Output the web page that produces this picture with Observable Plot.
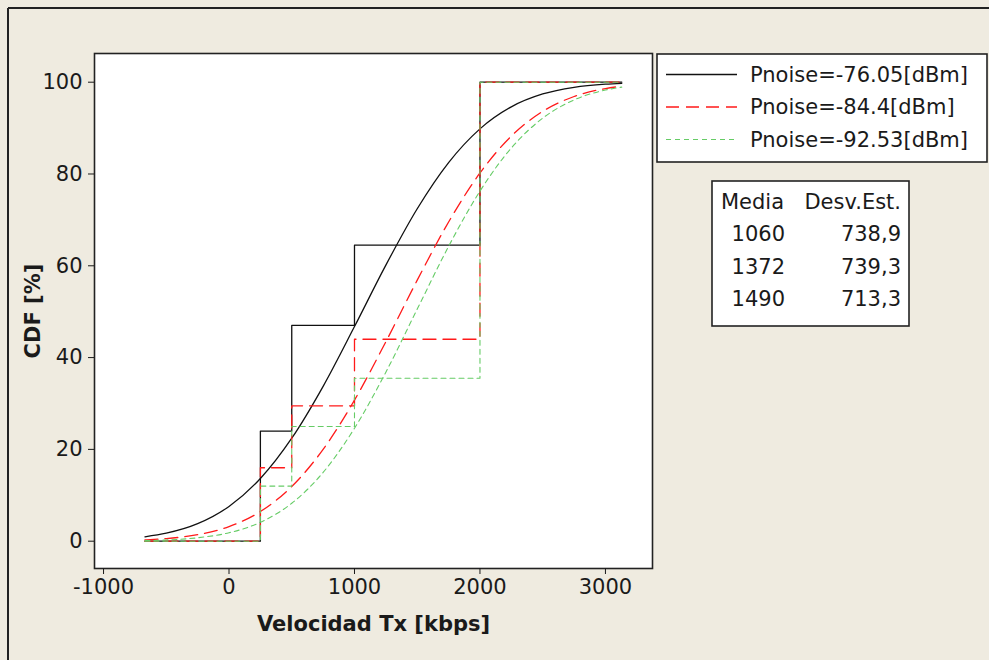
<!DOCTYPE html>
<html>
<head>
<meta charset="utf-8">
<script src="https://cdn.jsdelivr.net/npm/d3@7"></script>
<script src="https://cdn.jsdelivr.net/npm/@observablehq/plot@0.6"></script>
<style>
  html, body { margin: 0; padding: 0; background: #efebe0; }
  #chart { position: relative; width: 989px; height: 660px; }
</style>
</head>
<body>
<div id="chart"></div>
<script>
// ---- data ----
const seriesNames = ["Pnoise=-76.05[dBm]", "Pnoise=-84.4[dBm]", "Pnoise=-92.53[dBm]"];
const means = ["1060", "1372", "1490"];
const stdDevs = ["738,9", "739,3", "713,3"];

// empirical CDF steps
const stepX = [-670, 250, 500, 1000, 2000, 3130];
const ecdfA = [0, 24, 47, 64.5, 100, 100];
const ecdfB = [0, 16, 29.5, 44, 100, 100];
const ecdfC = [0, 12, 25, 35.5, 100, 100];

// fitted curves, read point by point
const curveX = [-670, -500, -250, 0, 250, 500, 750, 1000, 1250, 1500, 1750, 2000, 2250, 2500, 2750, 3000, 3130];
const fitA = [0.96, 1.74, 3.81, 7.57, 13.65, 22.43, 33.74, 46.76, 60.15, 72.42, 82.48, 89.83, 94.63, 97.43, 98.89, 99.57, 99.75];
const fitB = [0.29, 0.57, 1.41, 3.17, 6.46, 11.91, 20.01, 30.74, 43.45, 56.87, 69.54, 80.22, 88.25, 93.64, 96.88, 98.62, 99.13];
const fitC = [0.12, 0.26, 0.74, 1.84, 4.11, 8.26, 14.98, 24.61, 36.82, 50.56, 64.23, 76.27, 85.67, 92.16, 96.14, 98.29, 98.92];

const xTicks = [-1000, 0, 1000, 2000, 3000];
const yTicks = [0, 20, 40, 60, 80, 100];

// ---- styles ----
const colors = ["#111111", "#ff1a1a", "#66cc66"];
const dashes = [null, "13,7", "5,4"];
const widths = [1.3, 1.3, 1.1];

const ecdfs = [ecdfA, ecdfB, ecdfC];
const fits = [fitA, fitB, fitC];

const lineMarks = [];
for (let s = 0; s < 3; s++) {
  const steps = stepX.map((x, i) => ({x, y: ecdfs[s][i]}));
  const fit = curveX.map((x, i) => ({x, y: fits[s][i]}));
  lineMarks.push(Plot.line(steps, {x: "x", y: "y", curve: "step-after", stroke: colors[s], strokeWidth: widths[s], strokeDasharray: dashes[s]}));
  lineMarks.push(Plot.line(fit, {x: "x", y: "y", curve: "monotone-x", stroke: colors[s], strokeWidth: widths[s], strokeDasharray: dashes[s]}));
}

const svg = Plot.plot({
  width: 989,
  height: 660,
  marginLeft: 94,
  marginRight: 337,
  marginTop: 53,
  marginBottom: 92,
  style: {background: "#efebe0", fontFamily: "DejaVu Sans", fontSize: "21px", color: "#1a1a1a"},
  x: {domain: [-1072, 3375]},
  y: {domain: [-5.95, 106.25]},
  marks: [
    Plot.frame({fill: "white", stroke: null}),
    ...lineMarks,
    Plot.frame({stroke: "#222", strokeWidth: 1.6}),
    Plot.axisX({ticks: xTicks, tickSize: 6, tickPadding: 5, tickFormat: d => String(d), label: null, fontSize: 21}),
    Plot.axisY({ticks: yTicks, tickSize: 6, tickPadding: 6, tickFormat: d => String(d), label: null, fontSize: 21}),
    Plot.text(["Velocidad Tx [kbps]"], {frameAnchor: "bottom", dy: 56, lineAnchor: "middle", fontWeight: "bold", fontSize: 21}),
    Plot.text(["CDF [%]"], {frameAnchor: "left", dx: -61, rotate: -90, textAnchor: "middle", fontWeight: "bold", fontSize: 21})
  ]
});

document.getElementById("chart").appendChild(svg);

// ---- legend, stats table and outer border ----
const root = d3.select(svg);
const g = root.append("g").attr("text-anchor", "start");

// outer border (left & top)
g.append("line").attr("x1", 8).attr("y1", 8).attr("x2", 8).attr("y2", 660).attr("stroke", "#222").attr("stroke-width", 2);
g.append("line").attr("x1", 8).attr("y1", 8).attr("x2", 989).attr("y2", 8).attr("stroke", "#222").attr("stroke-width", 2);

// series legend
g.append("rect").attr("x", 657).attr("y", 54).attr("width", 330).attr("height", 108)
  .attr("fill", "white").attr("stroke", "#222").attr("stroke-width", 1.6);
seriesNames.forEach((name, i) => {
  const cy = 74.5 + i * 32.5;
  g.append("line").attr("x1", 666).attr("x2", 737).attr("y1", cy).attr("y2", cy)
    .attr("stroke", colors[i]).attr("stroke-width", widths[i])
    .attr("stroke-dasharray", dashes[i]);
  g.append("text").attr("x", 750).attr("y", cy).attr("dy", "0.35em").attr("text-anchor", "start")
    .attr("fill", "#1a1a1a").attr("font-size", 21).text(name);
});

// statistics table
g.append("rect").attr("x", 712).attr("y", 181).attr("width", 197).attr("height", 145)
  .attr("fill", "white").attr("stroke", "#222").attr("stroke-width", 1.6);
const rowY = [202, 234, 267, 299];
g.append("text").attr("x", 784).attr("y", rowY[0]).attr("dy", "0.35em").attr("text-anchor", "end")
  .attr("fill", "#1a1a1a").attr("font-size", 21).text("Media");
g.append("text").attr("x", 901).attr("y", rowY[0]).attr("dy", "0.35em").attr("text-anchor", "end")
  .attr("fill", "#1a1a1a").attr("font-size", 21).text("Desv.Est.");
means.forEach((m, i) => {
  g.append("text").attr("x", 785).attr("y", rowY[i + 1]).attr("dy", "0.35em").attr("text-anchor", "end")
    .attr("fill", "#1a1a1a").attr("font-size", 21).text(m);
  g.append("text").attr("x", 901).attr("y", rowY[i + 1]).attr("dy", "0.35em").attr("text-anchor", "end")
    .attr("fill", "#1a1a1a").attr("font-size", 21).text(stdDevs[i]);
});
</script>
</body>
</html>
